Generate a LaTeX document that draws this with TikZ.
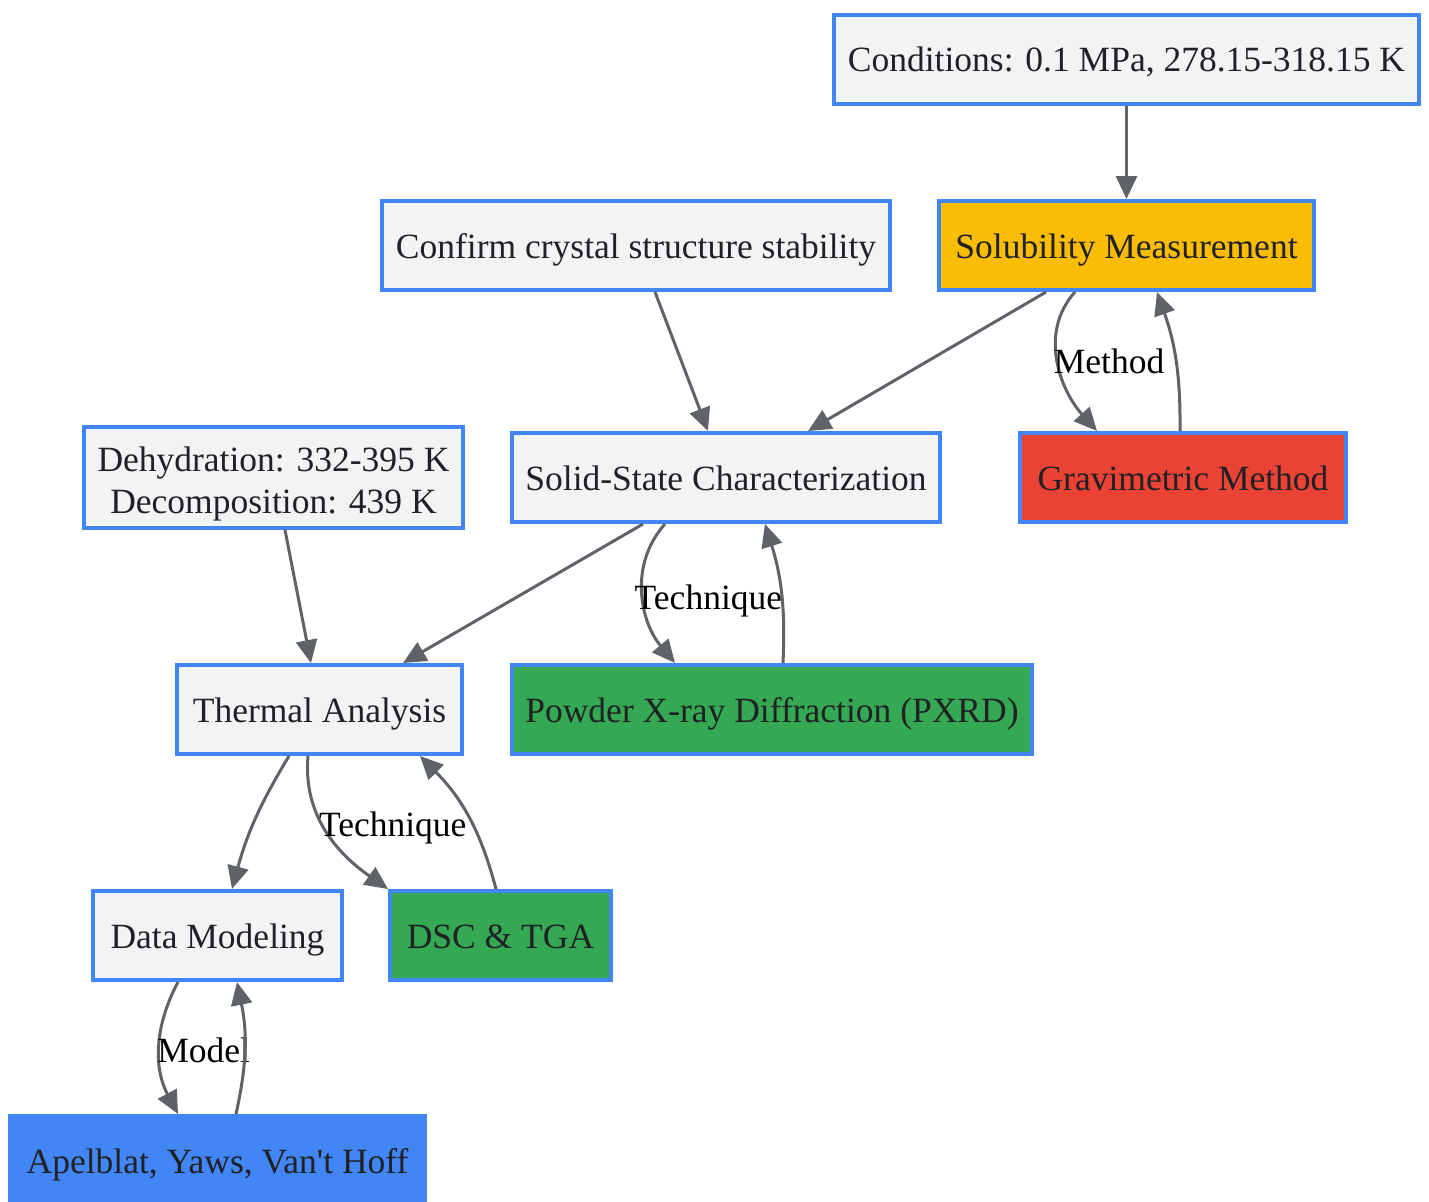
\documentclass[tikz,border=0pt]{standalone}
\usepackage{fontspec}
\setmainfont{Liberation Serif}
\usepackage{xcolor}
\usetikzlibrary{
    arrows.meta,
    positioning
}
\definecolor{nblue}{HTML}{4285F4}
\definecolor{ngrey}{HTML}{F1F3F5}
\definecolor{nyell}{HTML}{FBBC04}
\definecolor{nred}{HTML}{EA4335}
\definecolor{ngreen}{HTML}{34A853}
\definecolor{ntxt}{HTML}{202124}
\definecolor{nline}{HTML}{5F6368}
\tikzset{fbase/.style={draw=nblue, line width=2pt, fill=ngrey, text=ntxt, inner sep=0pt, minimum height=44.5pt, align=center, font=\fontsize{17.75}{21}\selectfont}}
\tikzset{fbox/.style={fbase, text height=14pt, text depth=1.3pt}}
\tikzset{flw/.style={draw=nline, line width=1.5pt, -{Triangle[length=11.5pt, width=10.5pt]}}}
\tikzset{lbl/.style={text=black, inner sep=0pt, anchor=west, font=\fontsize{17.75}{21}\selectfont}}

\begin{document}
\begin{tikzpicture}[x=0.5pt, y=-0.5pt]
                        \useasboundingbox (0, 0) rectangle (1429, 1201);

                        \node[fbox, minimum width=292.5pt] (cond) at (1126.5, 59) {Conditions: 0.1 MPa, 278.15-318.15 K};
                        \node[fbox, fill=nyell, minimum width=187.5pt] (solm) at (1126.5, 245.5) {Solubility Measurement};
                        \node[fbox, minimum width=254pt] (conf) at (636, 245.5) {Confirm crystal structure stability};
                        \node[fbox, minimum width=214pt] (ssc) at (726, 477.5) {Solid-State Characterization};
                        \node[fbox, fill=nred, minimum width=163pt] (grav) at (1183, 477.5) {Gravimetric Method};
                        \node[fbase, minimum width=189.5pt, minimum height=50.5pt] (dehy) at (273.5, 477.5) {\rule{0pt}{19pt}Dehydration: 332-395 K\\Decomposition: 439 K};
                        \node[fbox, minimum width=142.5pt] (thrm) at (319.5, 709.5) {Thermal Analysis};
                        \node[fbox, fill=ngreen, minimum width=260pt] (pxrd) at (772, 709.5) {Powder X-ray Diffraction (PXRD)};
                        \node[fbox, minimum width=124.5pt] (dmod) at (217.5, 935.5) {Data Modeling};
                        \node[fbox, fill=ngreen, minimum width=110.5pt] (dsc) at (500.5, 935.5) {DSC \& TGA};
                        \node[fbox, fill=nblue, minimum width=207.5pt] (apel) at (217.5, 1160.5) {Apelblat, Yaws, Van\textquotesingle t Hoff};

                        \draw
                        (cond) edge[flw] (solm)
                        ([xshift=-40.25pt]solm.south) edge[flw] ([xshift=41pt]ssc.north)
                        ([xshift=9.5pt]conf.south) edge[flw] ([xshift=-9pt]ssc.north)
                        ([xshift=-25.75pt]solm.south) edge[flw, out=228, in=132] node[lbl, pos=0.5, xshift=-3pt]{Method} ([xshift=-43pt]grav.north)
                        ([xshift=-1.5pt]grav.north) edge[flw, bend right=10] ([xshift=15.25pt]solm.south)
                        ([xshift=-41.5pt]ssc.south) edge[flw] ([xshift=41.75pt]thrm.north)
                        ([xshift=5.75pt]dehy.south) edge[flw] ([xshift=-4.25pt]thrm.north)
                        ([xshift=-30.5pt]ssc.south) edge[flw, out=228, in=130] node[lbl, pos=0.5, xshift=-5pt, yshift=-4pt]{Technique} ([xshift=-48.5pt]pxrd.north)
                        ([xshift=5.5pt]pxrd.north) edge[flw, bend right=10] ([xshift=19.5pt]ssc.south)
                        ([xshift=-15.25pt]thrm.south) edge[flw, bend right=8] ([xshift=7.25pt]dmod.north)
                        ([xshift=-5.75pt]thrm.south) edge[flw, out=265, in=145] node[lbl, pos=0.4, xshift=-1pt, yshift=-4.5pt]{Technique} (dsc.north west)
                        ([xshift=-2.25pt]dsc.north) edge[flw, bend right=15] ([xshift=50.25pt]thrm.south)
                        ([xshift=-19.75pt]dmod.south) edge[flw, bend right=28] node[lbl, pos=0.5, xshift=-2pt, yshift=-1pt]{Model} ([xshift=-19.75pt]apel.north)
                        ([xshift=9.25pt]apel.north) edge[flw, bend right=12] ([xshift=9.75pt]dmod.south);
                    \end{tikzpicture}
\end{document}
